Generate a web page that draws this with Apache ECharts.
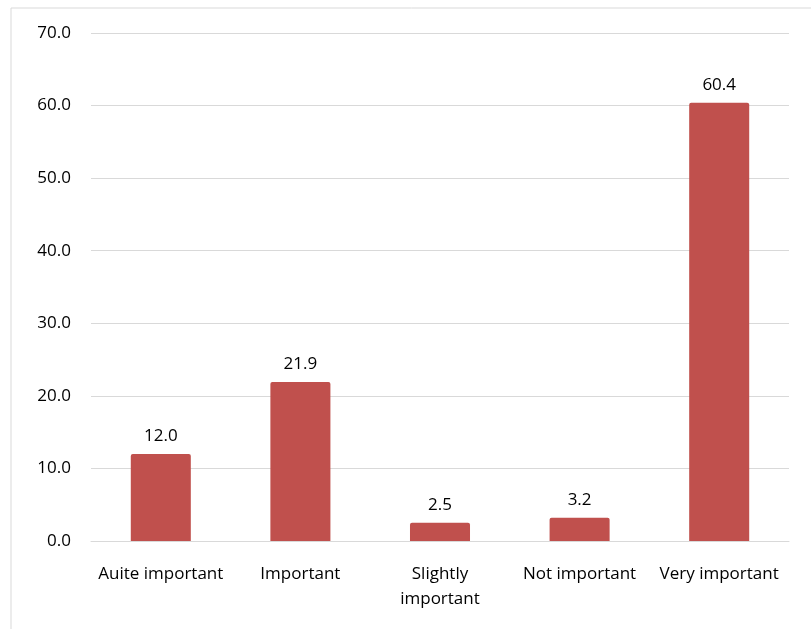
<!DOCTYPE html>
<html><head><meta charset="utf-8">
<script src="https://cdn.jsdelivr.net/npm/echarts@6/dist/echarts.min.js"></script>
<style>html,body{margin:0;padding:0;background:#fff}#c{width:811px;height:629px}</style>
</head><body><div id="c"></div>
<script>
const categories = ['Auite important', 'Important', 'Slightly important', 'Not important', 'Very important'];
const values = [12.0, 21.9, 2.5, 3.2, 60.4];
const yTicks = [0, 10, 20, 30, 40, 50, 60, 70];

const chart = echarts.init(document.getElementById('c'));
const font = 'Open Sans';
chart.setOption({
  animation: false,
  graphic: [{type: 'rect', shape: {x: 11, y: 8, width: 900, height: 800}, style: {fill: 'none', stroke: '#d9d9d9', lineWidth: 1}}],
  grid: {left: 91, right: 22, top: 33, bottom: 88},
  xAxis: {
    type: 'category', data: categories,
    axisLine: {show: true, lineStyle: {color: '#d9d9d9'}},
    axisTick: {show: false},
    axisLabel: {color: '#000', fontFamily: font, fontSize: 17, margin: 21, lineHeight: 25, interval: 0,
      formatter: v => v.replace('Slightly ', 'Slightly\n')}
  },
  yAxis: {
    type: 'value', min: yTicks[0], max: yTicks[yTicks.length - 1], interval: 10,
    axisLine: {show: false}, axisTick: {show: false},
    splitLine: {lineStyle: {color: '#d9d9d9'}},
    axisLabel: {color: '#000', fontFamily: font, fontSize: 17, margin: 20, formatter: v => v.toFixed(1)}
  },
  series: [{
    type: 'bar', data: values, barWidth: '43%',
    itemStyle: {color: '#c0504d', borderRadius: [2, 2, 0, 0]},
    label: {show: true, position: 'top', distance: 9, color: '#000', fontFamily: font, fontSize: 17,
      formatter: p => p.value.toFixed(1)}
  }]
});
</script></body></html>
